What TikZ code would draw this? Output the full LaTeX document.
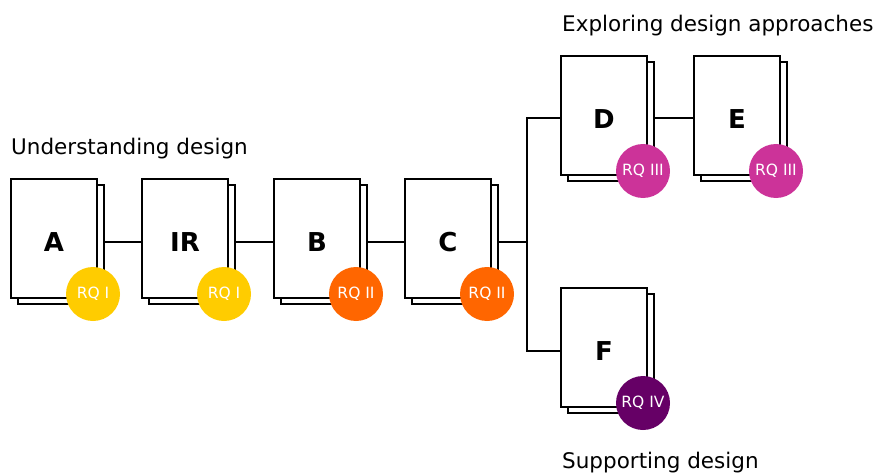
\documentclass[tikz,border=0pt]{standalone}
\usepackage{fontspec}
\setmainfont{DejaVu Sans}
\usetikzlibrary{shadows,backgrounds}
\definecolor{rqyellow}{HTML}{FFCC00}
\definecolor{rqorange}{HTML}{FF6600}
\definecolor{rqmagenta}{HTML}{CC3399}
\definecolor{rqpurple}{HTML}{660066}
\tikzset{
  page/.style={draw, fill=white, line width=2pt, minimum width=86pt, minimum height=119pt,
    inner sep=0pt,
    label={[yshift=-3.5pt, font=\fontsize{26}{26}\selectfont\bfseries]center:#1},
    copy shadow={shadow xshift=7pt, shadow yshift=-6pt, draw=black, fill=white, line width=2pt}},
  rq/.style={circle, fill=#1, minimum size=54pt, inner sep=0pt, text=white,
    font=\fontsize{15.5}{15.5}\selectfont},
  link/.style={line width=2pt},
  heading/.style={anchor=base west, inner sep=0pt, font=\fontsize{21.5}{21.5}\selectfont},
}
\begin{document}
\begin{tikzpicture}[x=1pt, y=-1pt]
\useasboundingbox (0,0) rectangle (877,473);

% study pages
\node[page=A]  (A)  at (54,238.5)  {};
\node[page=IR] (IR) at (185,238.5) {};
\node[page=B]  (B)  at (317,238.5) {};
\node[page=C]  (C)  at (448,238.5) {};
\node[page=D]  (D)  at (604,115.5) {};
\node[page=E]  (E)  at (737,115.5) {};
\node[page=F]  (F)  at (604,347.5) {};

% connectors, kept behind the pages
\begin{scope}[on background layer]
  \draw[link] ([yshift=-3pt]A.east)  -- ([yshift=-3pt]IR.west);
  \draw[link] ([yshift=-3pt]IR.east) -- ([yshift=-3pt]B.west);
  \draw[link] ([yshift=-3pt]B.east)  -- ([yshift=-3pt]C.west);
  \draw[link] ([yshift=-3pt]D.east)  -- ([yshift=-3pt]E.west);
\end{scope}
\coordinate (J) at (527,241.5);
\draw[link] ([yshift=-3pt]C.east) ++(7,0) -- (J);
\draw[link] (J) |- ([yshift=-3pt]D.west);
\draw[link] (J) |- ([yshift=-3pt]F.west);

% research question badges
\node[rq=rqyellow]  (qA)  at ([xshift=-5pt,yshift=5pt]A.south east)  {RQ I};
\node[rq=rqyellow]  (qIR) at ([xshift=-5pt,yshift=5pt]IR.south east) {RQ I};
\node[rq=rqorange]  (qB)  at ([xshift=-5pt,yshift=5pt]B.south east)  {RQ II};
\node[rq=rqorange]  (qC)  at ([xshift=-5pt,yshift=5pt]C.south east)  {RQ II};
\node[rq=rqmagenta] (qD)  at ([xshift=-5pt,yshift=5pt]D.south east)  {RQ III};
\node[rq=rqmagenta] (qE)  at ([xshift=-5pt,yshift=5pt]E.south east)  {RQ III};
\node[rq=rqpurple]  (qF)  at ([xshift=-5pt,yshift=5pt]F.south east)  {RQ IV};

% phase headings
\node[heading] (h1) at (11,155)  {Understanding design};
\node[heading] (h2) at (562,32)  {Exploring design approaches};
\node[heading] (h3) at (562,468) {Supporting design};
\end{tikzpicture}
\end{document}
